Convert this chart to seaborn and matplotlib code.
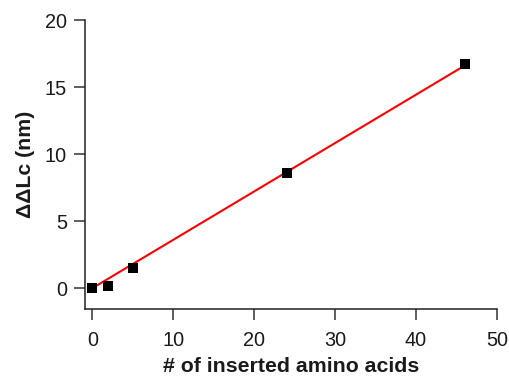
import matplotlib
matplotlib.use("Agg")
import matplotlib.pyplot as plt
import seaborn as sns
import pandas as pd

inserted = [0, 2, 5, 24, 46]
ddlc = [0.0, 0.18, 1.52, 8.62, 16.75]
fit_x = [0, 46]
fit_y = [0.0, 16.6]
xticks = [0, 10, 20, 30, 40, 50]
yticks = [0, 5, 10, 15, 20]

sns.set_style("ticks")
plt.rcParams['font.family'] = ['Liberation Sans', 'DejaVu Sans']

fig = plt.figure(figsize=(5.09, 3.80), dpi=100)
ax = fig.add_axes([85/509, 1-309/380, (497-85)/509, (309-20)/380])

df = pd.DataFrame({"x": inserted, "y": ddlc})
fit = pd.DataFrame({"x": fit_x, "y": fit_y})
sns.lineplot(data=fit, x="x", y="y", ax=ax, color="#ff0000", linewidth=1.5, zorder=2)
sns.scatterplot(data=df, x="x", y="y", ax=ax, marker="s", s=55, color="black",
                edgecolor="black", linewidth=0, zorder=3, clip_on=False)

ax.set_xlim(-0.9, 50)
ax.set_ylim(-1.55, 20)
ax.set_xticks(xticks)
ax.set_yticks(yticks)
ax.tick_params(axis="both", direction="out", length=8, width=1.1, labelsize=14.3,
               color="#333333", labelcolor="#1a1a1a")
ax.tick_params(axis="x", pad=7.5)
ax.tick_params(axis="y", pad=5)
for side in ("top", "right"):
    ax.spines[side].set_visible(False)
for side in ("left", "bottom"):
    ax.spines[side].set_linewidth(1.1)
    ax.spines[side].set_color("#222222")
ax.set_xlabel("# of inserted amino acids", fontsize=15.3, fontweight="bold", labelpad=5.5,
              color="#1a1a1a")
ax.set_ylabel("ΔΔLc (nm)", fontsize=15.3, fontweight="bold", labelpad=7, color="#1a1a1a")

fig.savefig("out.png", dpi=100)
